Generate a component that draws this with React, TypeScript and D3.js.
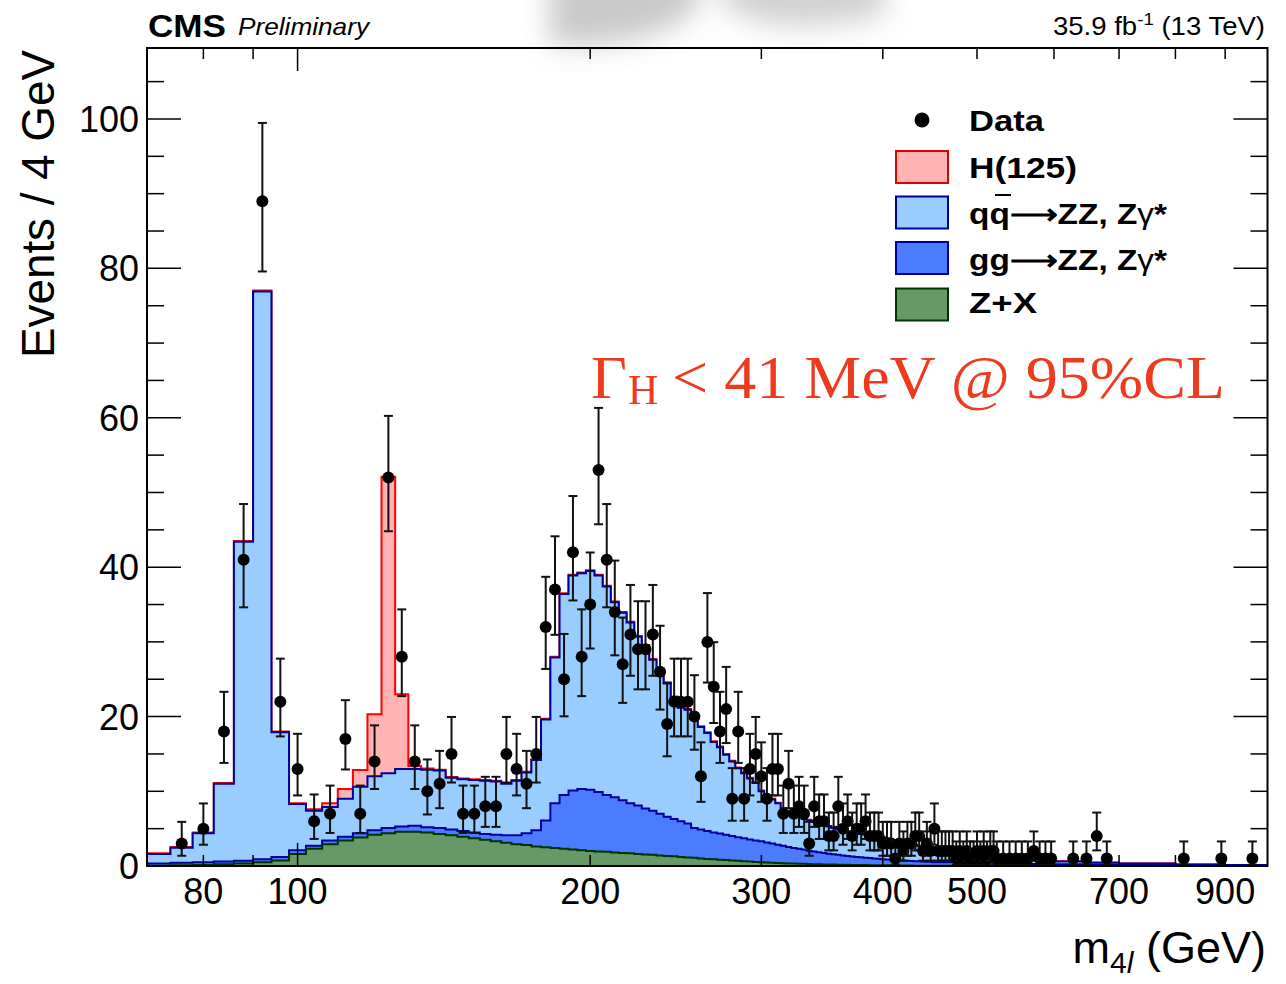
import React from "react";
import * as d3 from "d3";

// ---------------- data ----------------
// MC bin edges (GeV): 4 GeV bins up to 450, wider bins in the tail
const mcEdges: number[] = [...d3.range(70, 450, 4), 450, 480, 520, 560, 600, 650, 700, 800, 900, 995];

// Z+X
const zxVals = [
  0.05, 0.1, 0.15, 0.25, 0.35, 0.5, 0.75, 1.6, 2.3, 2.9,
  3.4, 3.8, 4.2, 4.4, 4.6, 4.6, 4.5, 4.3, 4.1, 3.9,
  3.7, 3.5, 3.3, 3.1, 2.9, 2.8, 2.6, 2.5, 2.4, 2.3,
  2.2, 2.1, 2.0, 1.95, 1.9, 1.8, 1.75, 1.7, 1.6, 1.55,
  1.5, 1.4, 1.35, 1.3, 1.2, 1.15, 1.1, 1.0, 0.95, 0.9,
  0.85, 0.8, 0.75, 0.7, 0.65, 0.6, 0.55, 0.5, 0.47, 0.44,
  0.41, 0.38, 0.35, 0.33, 0.31, 0.29, 0.27, 0.25, 0.23, 0.21,
  0.2, 0.19, 0.18, 0.17, 0.16, 0.15, 0.14, 0.13, 0.12, 0.11,
  0.1, 0.1, 0.09, 0.09, 0.08, 0.08, 0.07, 0.07, 0.06, 0.06,
  0.05, 0.05, 0.05, 0.04, 0.04,
  0.03, 0.02, 0.02, 0.01, 0.01, 0.01, 0, 0, 0,
];
// gg -> ZZ, Zgamma*
const ggVals = [
  0.3, 0.35, 0.35, 0.35, 0.35, 0.4, 0.45, 0.5, 0.4, 0.5,
  0.5, 0.6, 0.6, 0.7, 0.7, 0.8, 0.7, 0.8, 0.8, 0.8,
  0.8, 0.8, 0.9, 1.0, 1.2, 1.6, 2.2, 3.6, 6.0, 7.2,
  7.9, 8.2, 8.2, 7.95, 7.6, 7.4, 7.05, 6.7, 6.5, 6.15,
  5.9, 5.6, 5.25, 5.0, 4.8, 4.55, 4.0, 3.9, 3.75, 3.6,
  3.5, 3.4, 3.25, 3.15, 3.05, 2.95, 2.85, 2.8, 2.68, 2.56,
  2.44, 2.32, 2.2, 2.07, 1.99, 1.91, 1.78, 1.7, 1.62, 1.54,
  1.45, 1.39, 1.32, 1.25, 1.19, 1.13, 1.08, 1.04, 0.99, 0.95,
  0.9, 0.86, 0.83, 0.79, 0.76, 0.72, 0.7, 0.67, 0.65, 0.62,
  0.6, 0.57, 0.55, 0.54, 0.52,
  0.47, 0.4, 0.33, 0.27, 0.21, 0.16, 0.12, 0.08, 0.05,
];
// qq -> ZZ, Zgamma*
const qqVals = [
  1.25, 2.0, 3.9, 10.4, 42.7, 76.0, 16.7, 6.2, 4.7, 4.5,
  5.1, 6.2, 7.2, 7.3, 7.7, 7.6, 7.7, 7.7, 6.9, 6.9,
  7.0, 7.1, 7.1, 6.9, 7.3, 8.1, 9.4, 13.5, 19.5, 26.9,
  28.8, 28.9, 29.3, 29.0, 27.9, 26.1, 25.1, 24.2, 22.6, 21.8,
  20.2, 19.3, 17.9, 16.3, 15.2, 15.2, 14.9, 13.7, 13.1, 12.1,
  11.55, 10.7, 10.0, 9.25, 8.7, 8.15, 7.7, 6.7, 6.15, 5.9,
  5.55, 5.0, 4.75, 4.5, 4.3, 4.1, 4.05, 3.95, 3.85, 3.75,
  3.65, 3.52, 3.4, 3.28, 3.25, 3.22, 3.18, 3.13, 3.09, 3.04,
  3.0, 2.94, 2.88, 2.77, 2.66, 2.6, 2.48, 2.41, 2.29, 2.22,
  2.15, 2.03, 1.95, 1.87, 1.79,
  1.5, 1.08, 0.75, 0.52, 0.38, 0.28, 0.2, 0.12, 0.07,
];
// H(125)
const hVals = [
  0.1, 0.1, 0.1, 0.1, 0.1, 0.15, 0.1, 0.1, 0.2, 0.5,
  1.3, 2.25, 8.3, 39.7, 10.0, 0.4, 0.15, 0.1, 0.1, 0.1,
  0.1, 0.1, 0.1, 0.1, 0.1, 0.1, 0.1, 0.1, 0.1, 0.1,
  0.1, 0.1, 0.1, 0.1, 0.1, 0.1, 0.1, 0.1, 0.1, 0.1,
  0.1, 0.1, 0.1, 0.1, 0.1, 0.1, 0.1, 0.1, 0.1, 0.1,
  0.1, 0.1, 0.1, 0.1, 0.1, 0.1, 0.1, 0.1, 0.1, 0.1,
  0.08, 0.08, 0.08, 0.08, 0.08, 0.08, 0.08, 0.08, 0.08, 0.08,
  0.06, 0.06, 0.06, 0.06, 0.06, 0.06, 0.06, 0.06, 0.06, 0.06,
  0.05, 0.05, 0.05, 0.05, 0.05, 0.05, 0.05, 0.05, 0.05, 0.05,
  0.05, 0.05, 0.05, 0.05, 0.05,
  0.04, 0.03, 0.03, 0.02, 0.02, 0.01, 0.01, 0.01, 0,
];

// Data: 4 GeV bin centres (GeV) with non-zero counts
const dataMass = [
  76, 80, 84, 88, 92, 96, 100, 104, 108, 112, 116, 120, 124, 128, 132, 136, 140, 144, 148, 152,
  156, 160, 164, 168, 172, 176, 180, 184, 188, 192, 196, 200, 204, 208, 212, 216, 220, 224, 228, 232,
  236, 240, 244, 248, 252, 256, 260, 264, 268, 272, 276, 280, 284, 288, 292, 296, 300, 304, 308, 312,
  316, 320, 324, 328, 332, 336, 340, 344, 348, 352, 356, 360, 364, 368, 372, 376, 380, 384, 388, 392,
  396, 400, 404, 408, 412, 416, 420, 424, 428, 432, 436, 440, 444, 448, 452, 456, 460, 464, 468, 472,
  476, 480, 484, 488, 492, 496, 500, 504, 508, 512, 516, 520, 524, 532, 540, 548, 556, 564, 572, 580,
  588, 596, 628, 648, 664, 680, 816, 892, 960,
];
const dataCount = [
  3, 5, 18, 41, 89, 22, 13, 6, 7, 17, 7, 14, 52, 28, 14, 10, 11, 15, 7, 7,
  8, 8, 15, 13, 11, 15, 32, 37, 25, 42, 28, 35, 53, 41, 34, 27, 31, 29, 29, 31,
  26, 19, 22, 22, 22, 20, 12, 30, 24, 18, 21, 9, 18, 9, 13, 15, 12, 9, 13, 13,
  7, 11, 7, 8, 7, 3, 8, 6, 6, 4, 4, 8, 5, 6, 4, 5, 5, 6, 4, 4,
  4, 3, 3, 3, 1, 3, 2, 3, 3, 4, 4, 2, 3, 2, 5, 2, 2, 2, 2, 2,
  1, 2, 1, 2, 1, 1, 2, 1, 2, 1, 2, 2, 1, 1, 1, 1, 1, 1, 2, 1,
  1, 1, 1, 1, 4, 1, 1, 1, 1,
];

const yTickLabels = [0, 20, 40, 60, 80, 100];
const xTickLabels = [80, 100, 200, 300, 400, 500, 700, 900];
const xTickValues = [70, 80, 90, 100, 200, 300, 400, 500, 600, 700, 800, 900];

// ---------------- helpers ----------------
function chi2q(k: number, z: number) {
  // Wilson-Hilferty approximation of the chi2 quantile
  const a = 2 / (9 * k);
  return k * Math.pow(1 - a + z * Math.sqrt(a), 3);
}
function garwood(n: number): [number, number] {
  if (n <= 0) return [0, 1.84];
  return [0.5 * chi2q(2 * n, -1), 0.5 * chi2q(2 * n + 2, 1)];
}

const X0 = 147, X1 = 1267.5, Y0 = 866, Y1 = 48;

export default function App() {
  const x = d3.scaleLog().domain([70, 995]).range([X0, X1]);
  const y = d3.scaleLinear().domain([0, 109.5]).range([Y0, Y1]);

  const nb = mcEdges.length - 1;
  const c1: number[] = [], c2: number[] = [], c3: number[] = [], c4: number[] = [];
  for (let i = 0; i < nb; i++) {
    c1.push(zxVals[i]);
    c2.push(c1[i] + ggVals[i]);
    c3.push(c2[i] + qqVals[i]);
    c4.push(c3[i] + hVals[i]);
  }
  const stepPts = (vals: number[]): [number, number][] => {
    const pts: [number, number][] = [[mcEdges[0], 0]];
    for (let i = 0; i < nb; i++) {
      pts.push([mcEdges[i], vals[i]]);
      pts.push([mcEdges[i + 1], vals[i]]);
    }
    pts.push([mcEdges[nb], 0]);
    return pts;
  };
  const line = d3.line<[number, number]>().x((d) => x(d[0])).y((d) => y(d[1]));
  const area = (vals: number[]) => line(stepPts(vals))! + "Z";
  const outline = (vals: number[]) => line(stepPts(vals).slice(1, -1))!;

  const layers = [
    { vals: c4, fill: "#ffb3b3", stroke: "#ff0000" },
    { vals: c3, fill: "#99ccff", stroke: "#000099" },
    { vals: c2, fill: "#4b7bff", stroke: "#000099" },
    { vals: c1, fill: "#669966", stroke: "#003300" },
  ];

  const font = "'Liberation Sans', Arial, Helvetica, sans-serif";

  const yMinor = d3.range(0, 110, 5);
  return (
    <svg width={1286} height={984} style={{ position: "absolute", left: 0, top: 0, background: "#fff" }}>
      <defs>
        <clipPath id="frame">
          <rect x={X0} y={Y1} width={X1 - X0} height={Y0 - Y1} />
        </clipPath>
        <filter id="blur" x="-50%" y="-50%" width="200%" height="200%">
          <feGaussianBlur stdDeviation="14" />
        </filter>
      </defs>
      {/* grey smudge at top */}
      <g filter="url(#blur)" opacity={0.45}>
        <path d="M550,-30 L700,-30 L700,0 C690,25 640,48 550,45 Z" fill="#888" />
        <path d="M722,-30 L885,-30 L885,15 C820,30 760,32 722,5 Z" fill="#999" />
      </g>

      <g clipPath="url(#frame)">
        {layers.map((l, i) => (
          <g key={i}>
            <path d={area(l.vals)} fill={l.fill} stroke="none" />
            <path d={outline(l.vals)} fill="none" stroke={l.stroke} strokeWidth={2} />
          </g>
        ))}
      </g>

      {/* data */}
      <g>
        {dataMass.map((m, i) => {
          const n = dataCount[i];
          const [lo, hi] = garwood(n);
          const cx = x(m);
          return (
            <g key={i} stroke="#111" strokeWidth={2}>
              <line x1={cx} x2={cx} y1={y(lo)} y2={y(hi)} />
              <line x1={cx - 4.5} x2={cx + 4.5} y1={y(lo)} y2={y(lo)} />
              <line x1={cx - 4.5} x2={cx + 4.5} y1={y(hi)} y2={y(hi)} />
              <circle cx={cx} cy={y(n)} r={6} fill="#000" stroke="none" />
            </g>
          );
        })}
      </g>

      {/* frame */}
      <rect x={X0} y={Y1} width={X1 - X0} height={Y0 - Y1} fill="none" stroke="#000" strokeWidth={2} />

      {/* y ticks */}
      {yMinor.map((v) => {
        const len = v % 20 === 0 ? 34 : 17;
        return (
          <g key={v} stroke="#000" strokeWidth={1.5}>
            <line x1={X0} x2={X0 + len} y1={y(v)} y2={y(v)} />
            <line x1={X1} x2={X1 - len} y1={y(v)} y2={y(v)} />
          </g>
        );
      })}
      {yTickLabels.map((v) => (
        <text key={v} x={139} y={y(v) + 13} textAnchor="end" fontFamily={font} fontSize={36}>
          {v}
        </text>
      ))}

      {/* x ticks */}
      {xTickValues.map((v) => {
        const len = v === 100 ? 23 : 11;
        return (
          <g key={v} stroke="#000" strokeWidth={1.5}>
            <line x1={x(v)} x2={x(v)} y1={Y0} y2={Y0 - len} />
            <line x1={x(v)} x2={x(v)} y1={Y1} y2={Y1 + len} />
          </g>
        );
      })}
      {xTickLabels.map((v) => (
        <text key={v} x={x(v)} y={904} textAnchor="middle" fontFamily={font} fontSize={36}>
          {v}
        </text>
      ))}

      {/* axis titles */}
      <text transform="translate(54,50) rotate(-90)" textAnchor="end" fontFamily={font} fontSize={46} textLength={308} lengthAdjust="spacingAndGlyphs">
        Events / 4 GeV
      </text>
      <text x={1266} y={963} textAnchor="end" fontFamily={font} fontSize={45}>
        m<tspan fontSize={30} dy={10}>4</tspan>
        <tspan fontSize={30} fontStyle="italic">l</tspan>
        <tspan dy={-10}> (GeV)</tspan>
      </text>

      {/* header */}
      <text x={148} y={37} fontFamily={font} fontSize={32} fontWeight="bold" textLength={78} lengthAdjust="spacingAndGlyphs">
        CMS
      </text>
      <text x={238} y={35} fontFamily={font} fontSize={24} fontStyle="italic" textLength={131} lengthAdjust="spacingAndGlyphs">
        Preliminary
      </text>
      <text x={1053} y={35} fontFamily={font} fontSize={25} textLength={212} lengthAdjust="spacingAndGlyphs">
        35.9 fb<tspan fontSize={17} dy={-10}>-1</tspan>
        <tspan dy={10}> (13 TeV)</tspan>
      </text>

      {/* legend */}
      <circle cx={922} cy={120} r={7.5} fill="#000" />
      <text x={969} y={131} fontFamily={font} fontSize={30} fontWeight="bold" textLength={75} lengthAdjust="spacingAndGlyphs">
        Data
      </text>
      {[
        { yc: 167, fill: "#ffb3b3", stroke: "#dd0000" },
        { yc: 212.5, fill: "#99ccff", stroke: "#000099" },
        { yc: 258, fill: "#4b7bff", stroke: "#000099" },
        { yc: 304.5, fill: "#669966", stroke: "#003300" },
      ].map((b, i) => (
        <rect key={i} x={896} y={b.yc - 16} width={52} height={32} fill={b.fill} stroke={b.stroke} strokeWidth={2} />
      ))}
      <text x={969} y={178} fontFamily={font} fontSize={30} fontWeight="bold" textLength={108} lengthAdjust="spacingAndGlyphs">
        H(125)
      </text>
      <text x={969} y={224} fontFamily={font} fontSize={30} fontWeight="bold" textLength={198} lengthAdjust="spacingAndGlyphs">
        qq⟶ZZ, Z<tspan fontWeight="normal">γ</tspan>*
      </text>
      <line x1={995} x2={1011} y1={195} y2={195} stroke="#000" strokeWidth={2} />
      <text x={969} y={270} fontFamily={font} fontSize={30} fontWeight="bold" textLength={198} lengthAdjust="spacingAndGlyphs">
        gg⟶ZZ, Z<tspan fontWeight="normal">γ</tspan>*
      </text>
      <text x={969} y={313} fontFamily={font} fontSize={30} fontWeight="bold" textLength={68} lengthAdjust="spacingAndGlyphs">
        Z+X
      </text>

      {/* width limit */}
      <g fill="#ee3a1e" fontFamily="'Liberation Serif', 'Times New Roman', serif">
        <text x={591} y={398} fontSize={62}>Γ</text>
        <text x={628} y={404} fontSize={42}>H</text>
        <text x={672} y={398} fontSize={62} textLength={553} lengthAdjust="spacingAndGlyphs">
          &lt; 41 MeV @ 95%CL
        </text>
      </g>
    </svg>
  );
}
